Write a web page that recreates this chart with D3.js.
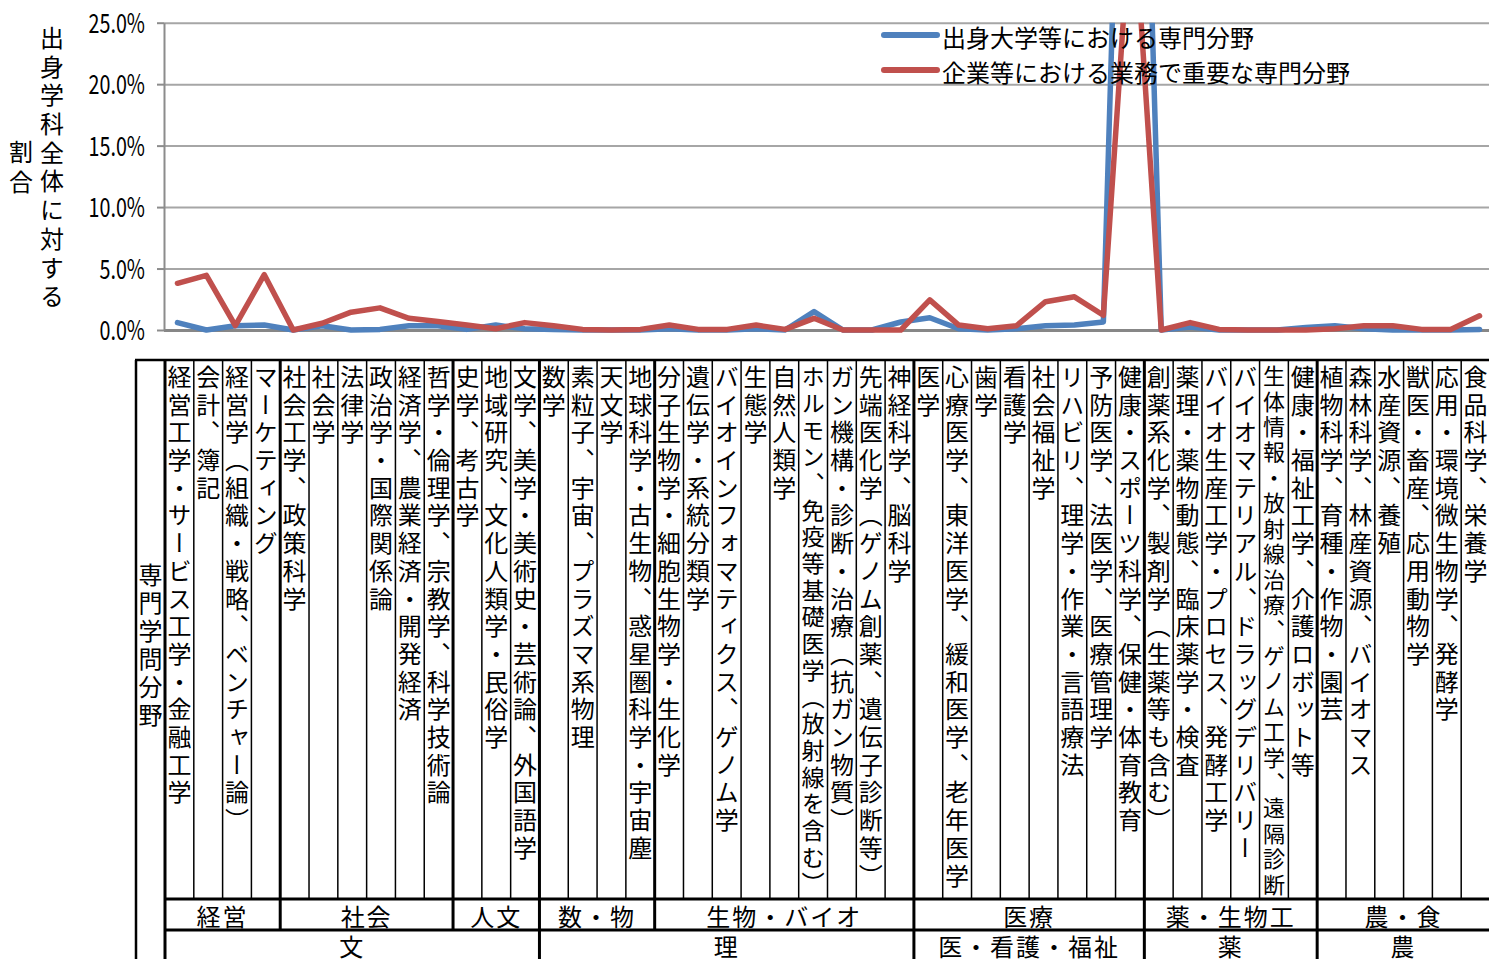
<!DOCTYPE html>
<html>
<head>
<meta charset="utf-8">
<script src="https://cdn.jsdelivr.net/npm/d3@7"></script>
<style>
body{margin:0;background:#fff;}
svg{display:block;font-family:"Noto Sans CJK JP","Noto Sans",sans-serif;}
</style>
</head>
<body>
<script>
// 専門学問分野 (46)
const categories = [
  "経営工学・サービス工学・金融工学","会計、簿記","経営学（組織・戦略、ベンチャー論）","マーケティング",
  "社会工学、政策科学","社会学","法律学","政治学・国際関係論","経済学、農業経済・開発経済","哲学・倫理学、宗教学、科学技術論",
  "史学、考古学","地域研究、文化人類学・民俗学","文学、美学・美術史・芸術論、外国語学",
  "数学","素粒子、宇宙、プラズマ系物理","天文学","地球科学・古生物、惑星圏科学・宇宙塵",
  "分子生物学・細胞生物学・生化学","遺伝学・系統分類学","バイオインフォマティクス、ゲノム学","生態学","自然人類学",
  "ホルモン、免疫等基礎医学（放射線を含む）","ガン機構・診断・治療（抗ガン物質）","先端医化学（ゲノム創薬、遺伝子診断等）","神経科学、脳科学",
  "医学","心療医学、東洋医学、緩和医学、老年医学","歯学","看護学","社会福祉学","リハビリ、理学・作業・言語療法",
  "予防医学、法医学、医療管理学","健康・スポーツ科学、保健・体育教育",
  "創薬系化学、製剤学（生薬等も含む）","薬理・薬物動態、臨床薬学・検査","バイオ生産工学・プロセス、発酵工学",
  "バイオマテリアル、ドラッグデリバリー","生体情報・放射線治療、ゲノム工学、遠隔診断","健康・福祉工学、介護ロボット等",
  "植物科学、育種・作物・園芸","森林科学、林産資源、バイオマス","水産資源、養殖","獣医・畜産、応用動物学",
  "応用・環境微生物学、発酵学","食品科学、栄養学"
];

// 出身大学等における専門分野 (%)
const uniShare = [
  0.6, 0.0, 0.35, 0.4,
  0.0, 0.35, 0.0, 0.05, 0.35, 0.35,
  0.05, 0.4, 0.1,
  0.05, 0.0, 0.0, 0.0,
  0.1, 0.0, 0.0, 0.1, 0.0, 1.5, 0.0, 0.0, 0.65,
  1.0, 0.1, 0.0, 0.1, 0.35, 0.4, 0.65, 80,
  0.0, 0.25, 0.0, 0.0, 0.0, 0.2,
  0.35, 0.1, 0.0, 0.0, 0.0, 0.05
];

// 企業等における業務で重要な専門分野 (%)
const jobShare = [
  3.8, 4.45, 0.35, 4.5,
  0.0, 0.55, 1.45, 1.8, 0.95, 0.7,
  0.4, 0.1, 0.6,
  0.35, 0.05, 0.0, 0.05,
  0.4, 0.05, 0.05, 0.4, 0.05, 0.95, 0.0, 0.0, 0.0,
  2.45, 0.4, 0.1, 0.35, 2.3, 2.7, 1.2, 36,
  0.0, 0.6, 0.05, 0.0, 0.0, 0.0,
  0.1, 0.35, 0.35, 0.05, 0.05, 1.15
];

const seriesNames = ["出身大学等における専門分野", "企業等における業務で重要な専門分野"];
const yTicks = [0, 5, 10, 15, 20, 25];
const yTitle = ["出身学科全体に対する", "割合"];
const tableTitle = "専門学問分野";
const fieldGroups = ["経営", "社会", "人文", "数・物", "生物・バイオ", "医療", "薬・生物工", "農・食"];
const fieldGroupSizes = [4, 6, 3, 4, 9, 8, 6, 6];
const majorGroups = ["文", "理", "医・看護・福祉", "薬", "農"];
const majorGroupSizes = [13, 13, 8, 6, 6];

const W = 1489, H = 959;
const blue = "#4F81BD", red = "#C0504D";

const svg = d3.select("body").append("svg").attr("width", W).attr("height", H);

// ---- chart ----
const x = d3.scaleBand().domain(categories).range([163, 1494]);
const cx = d => x(d) + x.bandwidth() / 2;
const y = d3.scaleLinear().domain([0, 25]).range([330, 22.7]);

// gridlines
svg.append("g")
  .attr("transform", "translate(164,0)")
  .call(d3.axisLeft(y).tickValues(yTicks).tickSize(-(W - 164)).tickFormat(""))
  .call(g => g.select(".domain").remove())
  .call(g => g.selectAll(".tick line")
    .attr("stroke", d => d === 0 ? "#878787" : "#a6a6a6")
    .attr("stroke-width", d => d === 0 ? 3 : 2));

// y axis
const yAxis = svg.append("g")
  .attr("transform", "translate(164,0)")
  .call(d3.axisLeft(y).tickValues(yTicks).tickSize(7).tickSizeOuter(0)
    .tickFormat(d => d.toFixed(1) + "%"));
yAxis.select(".domain").attr("stroke", "#8c8c8c").attr("stroke-width", 2);
yAxis.selectAll(".tick line").attr("stroke", "#8c8c8c").attr("stroke-width", 2);
yAxis.selectAll(".tick text")
  .attr("x", 0).attr("dy", "0.36em")
  .attr("transform", "translate(-19,0) scale(0.73,1)")
  .attr("fill", "#000")
  .style("font-size", "27px")
  .style("font-family", '"Noto Sans CJK JP",sans-serif');

// lines
svg.append("clipPath").attr("id", "plotclip")
  .append("rect").attr("x", 150).attr("y", y(25)).attr("width", W).attr("height", 330 - y(25) + 12);

const line = d3.line().x((d, i) => cx(categories[i])).y(d => y(d));
const plot = svg.append("g").attr("clip-path", "url(#plotclip)");
[[uniShare, blue], [jobShare, red]].forEach(([vals, col]) => {
  plot.append("path").datum(vals)
    .attr("d", line)
    .attr("fill", "none")
    .attr("stroke", col)
    .attr("stroke-width", 5.5)
    .attr("stroke-linejoin", "round")
    .attr("stroke-linecap", "round");
});

// legend
const legend = svg.append("g");
seriesNames.forEach((name, i) => {
  const ly = 35 + i * 35;
  legend.append("line").attr("x1", 884).attr("x2", 937).attr("y1", ly).attr("y2", ly)
    .attr("stroke", i === 0 ? blue : red).attr("stroke-width", 6).attr("stroke-linecap", "round");
  legend.append("text").attr("x", 942).attr("y", ly + 1)
    .attr("dominant-baseline", "central")
    .style("font-size", "24px").text(name);
});

// vertical text helper
function vText(g, str, px, yStart, pitch, size) {
  Array.from(str).forEach((ch, i) => {
    g.append("text")
      .attr("x", px)
      .attr("y", yStart + (i + 0.5) * pitch)
      .attr("text-anchor", "middle")
      .style("writing-mode", "vertical-rl")
      .style("font-size", size + "px")
      .text(ch);
  });
}

// y title
const yt = svg.append("g");
vText(yt, yTitle[0], 52, 167 - yTitle[0].length * 28.7 / 2, 28.7, 24);
vText(yt, yTitle[1], 21, 167 - yTitle[1].length * 30 / 2, 30, 24);

// ---- table ----
const tx = d3.scaleBand().domain(categories).range([165, 1490]);
const tTop = 360, tRow1 = 899, tRow2 = 930, tBot = H;
const table = svg.append("g");

const hline = (y0, x0, x1, w) => table.append("line")
  .attr("x1", x0).attr("x2", x1).attr("y1", y0).attr("y2", y0)
  .attr("stroke", "#000").attr("stroke-width", w);
const vline = (x0, y0, y1, w) => table.append("line")
  .attr("x1", x0).attr("x2", x0).attr("y1", y0).attr("y2", y1)
  .attr("stroke", "#000").attr("stroke-width", w);

hline(tTop, 135, W, 2.5);
hline(tRow1, 165, W, 3);
hline(tRow2, 165, W, 3);
vline(136, tTop, tBot, 2.5);
vline(tx(categories[0]), tTop, tBot, 3);

const fieldEnds = d3.cumsum(fieldGroupSizes);
const majorEnds = d3.cumsum(majorGroupSizes);
for (let k = 1; k < categories.length; k++) {
  const bx = tx(categories[k]);
  if (majorEnds.includes(k)) vline(bx, tTop, tBot, 3);
  else if (fieldEnds.includes(k)) vline(bx, tTop, tRow2, 3);
  else vline(bx, tTop, tRow1, 1.5);
}

// column labels
const avail = tRow1 - tTop - 5;
categories.forEach(c => {
  const n = Array.from(c).length;
  const pitch = Math.min(27.7, avail / n);
  const size = pitch < 27.7 ? 24 * pitch / 27.7 : 24;
  vText(table, c, tx(c) + tx.bandwidth() / 2, tTop + 3, pitch, size);
});

// table title
vText(table, tableTitle, 150.5, 645 - tableTitle.length * 28 / 2, 28, 24);

// group rows
function groupRow(names, sizes, yc) {
  let start = 0;
  names.forEach((nm, i) => {
    const a = tx(categories[start]);
    const b = tx(categories[start + sizes[i] - 1]) + tx.bandwidth();
    table.append("text")
      .attr("x", (a + b) / 2).attr("y", yc)
      .attr("text-anchor", "middle").attr("dominant-baseline", "central")
      .style("font-size", "24px").style("letter-spacing", "2px")
      .text(nm);
    start += sizes[i];
  });
}
groupRow(fieldGroups, fieldGroupSizes, 915);
groupRow(majorGroups, majorGroupSizes, 945);
</script>
</body>
</html>
